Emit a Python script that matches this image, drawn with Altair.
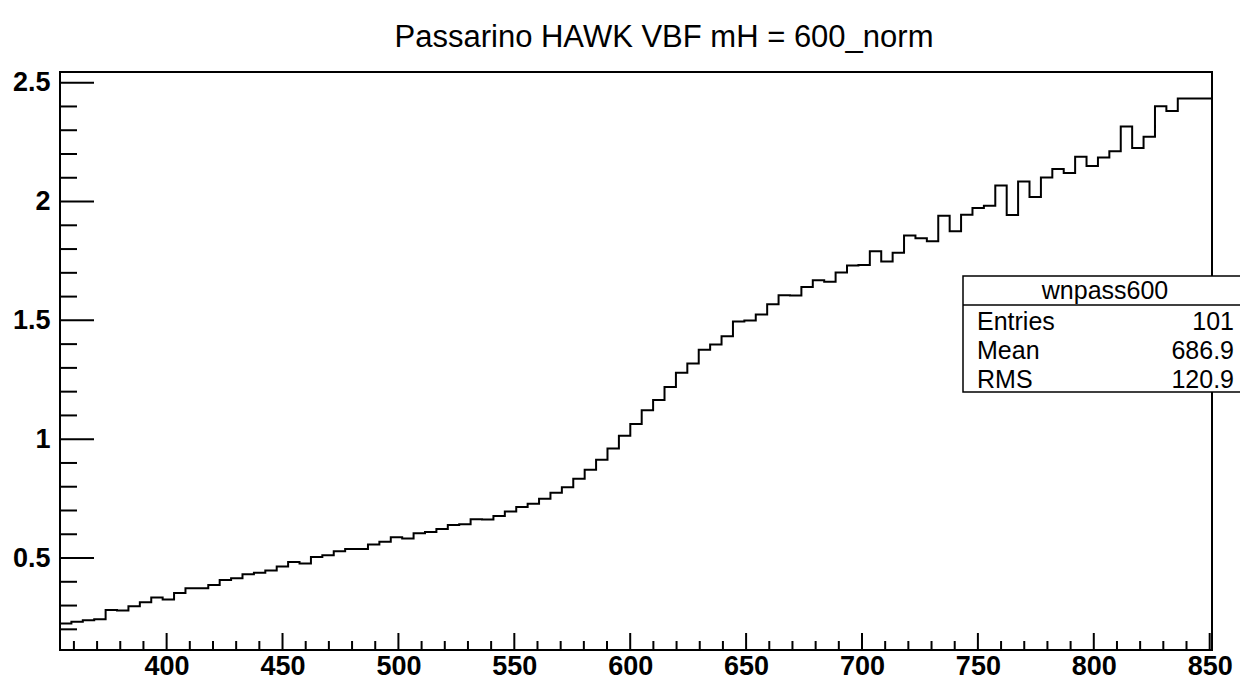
import altair as alt
import pandas as pd

# ---------------- data ----------------
title_text = "Passarino HAWK VBF mH = 600_norm"
x_low = 354.0
x_high = 851.0
n_bins = 101
bin_values = [
    0.224, 0.232, 0.238, 0.242, 0.281, 0.279, 0.297, 0.314, 0.334, 0.326,
    0.353, 0.373, 0.373, 0.387, 0.408, 0.415, 0.432, 0.438,
    0.447, 0.464, 0.483, 0.477, 0.504, 0.512, 0.528, 0.538, 0.538, 0.557,
    0.569, 0.587, 0.582, 0.604, 0.610, 0.622, 0.639,
    0.642, 0.663, 0.662, 0.677, 0.696, 0.715, 0.728, 0.749, 0.775, 0.798,
    0.834, 0.871, 0.913, 0.961, 1.014, 1.064, 1.122,
    1.165, 1.220, 1.280, 1.318, 1.376, 1.398, 1.433, 1.495, 1.499, 1.525,
    1.568, 1.606, 1.605, 1.640, 1.669, 1.662, 1.701,
    1.731, 1.733, 1.791, 1.748, 1.784, 1.857, 1.846, 1.833, 1.940, 1.875,
    1.944, 1.973, 1.982, 2.067, 1.943, 2.084, 2.019,
    2.101, 2.137, 2.120, 2.188, 2.150, 2.185, 2.212, 2.316, 2.225, 2.273,
    2.401, 2.381, 2.434, 2.434, 2.434,
]
y_low = 0.113
y_high = 2.545
x_major = [400, 450, 500, 550, 600, 650, 700, 750, 800, 850]
x_minor = [360, 370, 380, 390, 410, 420, 430, 440, 460, 470, 480, 490,
           510, 520, 530, 540, 560, 570, 580, 590, 610, 620, 630, 640,
           660, 670, 680, 690, 710, 720, 730, 740, 760, 770, 780, 790,
           810, 820, 830, 840]
y_major = [0.5, 1.0, 1.5, 2.0, 2.5]
y_minor = [0.2, 0.3, 0.4, 0.6, 0.7, 0.8, 0.9, 1.1, 1.2, 1.3, 1.4,
           1.6, 1.7, 1.8, 1.9, 2.1, 2.2, 2.3, 2.4]
stat_title = "wnpass600"
stat_labels = ["Entries", "Mean", "RMS"]
stat_values = ["101", "686.9", "120.9"]

# ---------------- layout ----------------
W, H = 1152, 578
FONT = "Liberation Sans"

bw = (x_high - x_low) / n_bins
hist = pd.DataFrame({
    "x": [x_low + i * bw for i in range(n_bins)] + [x_high],
    "y": bin_values + [bin_values[-1]],
})

xs = alt.Scale(domain=[x_low, x_high], nice=False, zero=False)
ys = alt.Scale(domain=[y_low, y_high], nice=False, zero=False)

x_axis = alt.Axis(values=x_major, format="d", labelFont=FONT, labelFontWeight="bold",
                  labelFontSize=27, labelColor="black", ticks=False, tickSize=0,
                  domain=False, grid=False, title=None, labelPadding=3,
                  labelBaseline="top", labelFlush=False, labelOverlap=False)
y_axis = alt.Axis(values=y_major, format="~g", labelFont=FONT, labelFontWeight="bold",
                  labelFontSize=27, labelColor="black", ticks=False, tickSize=0,
                  domain=False, grid=False, title=None, labelPadding=10,
                  labelBaseline="middle", labelFlush=False, labelOverlap=False)

line = alt.Chart(hist).mark_line(
    interpolate="step-after", color="black", strokeWidth=2
).encode(
    x=alt.X("x:Q", scale=xs, axis=x_axis),
    y=alt.Y("y:Q", scale=ys, axis=y_axis),
)

xmaj = alt.Chart(pd.DataFrame({"x": x_major})).mark_rule(color="black", strokeWidth=2).encode(
    x=alt.X("x:Q", scale=xs, axis=x_axis), y=alt.value(H), y2=alt.value(H - 17))
xmin = alt.Chart(pd.DataFrame({"x": x_minor})).mark_rule(color="black", strokeWidth=2).encode(
    x=alt.X("x:Q", scale=xs, axis=x_axis), y=alt.value(H), y2=alt.value(H - 9))
ymaj = alt.Chart(pd.DataFrame({"y": y_major})).mark_rule(color="black", strokeWidth=2).encode(
    y=alt.Y("y:Q", scale=ys, axis=y_axis), x=alt.value(0), x2=alt.value(34))
ymin = alt.Chart(pd.DataFrame({"y": y_minor})).mark_rule(color="black", strokeWidth=2).encode(
    y=alt.Y("y:Q", scale=ys, axis=y_axis), x=alt.value(0), x2=alt.value(17))

one = alt.Data(values=[{}])
title_mark = alt.Chart(one).mark_text(
    text=title_text, font=FONT, fontSize=31, color="black", align="center", baseline="alphabetic"
).encode(x=alt.value(604), y=alt.value(-25))
box = alt.Chart(one).mark_rect(fill="white", stroke="black", strokeWidth=1.5).encode(
    x=alt.value(903), x2=alt.value(1250), y=alt.value(204), y2=alt.value(320))
divider = alt.Chart(one).mark_rule(color="black", strokeWidth=1.5).encode(
    x=alt.value(903), x2=alt.value(1250), y=alt.value(233))
stat_head = alt.Chart(one).mark_text(
    text=stat_title, font=FONT, fontSize=25, color="black", align="center", baseline="alphabetic"
).encode(x=alt.value(1045), y=alt.value(227))

layers = [line, xmaj, xmin, ymaj, ymin, title_mark, box, divider, stat_head]
for i, (lab, val) in enumerate(zip(stat_labels, stat_values)):
    yy = 258 + 29 * i
    layers.append(alt.Chart(one).mark_text(
        text=lab, font=FONT, fontSize=25, color="black", align="left", baseline="alphabetic"
    ).encode(x=alt.value(917), y=alt.value(yy)))
    layers.append(alt.Chart(one).mark_text(
        text=val, font=FONT, fontSize=25, color="black", align="right", baseline="alphabetic"
    ).encode(x=alt.value(1174), y=alt.value(yy)))

chart = alt.layer(*layers).properties(
    width=W, height=H,
    padding={"left": 52, "top": 64, "right": 28, "bottom": 34},
    autosize=alt.AutoSizeParams(type="none"),
).configure_view(stroke="black", strokeWidth=2)

chart.save("out.html", embed_options={"renderer": "svg", "actions": False})
